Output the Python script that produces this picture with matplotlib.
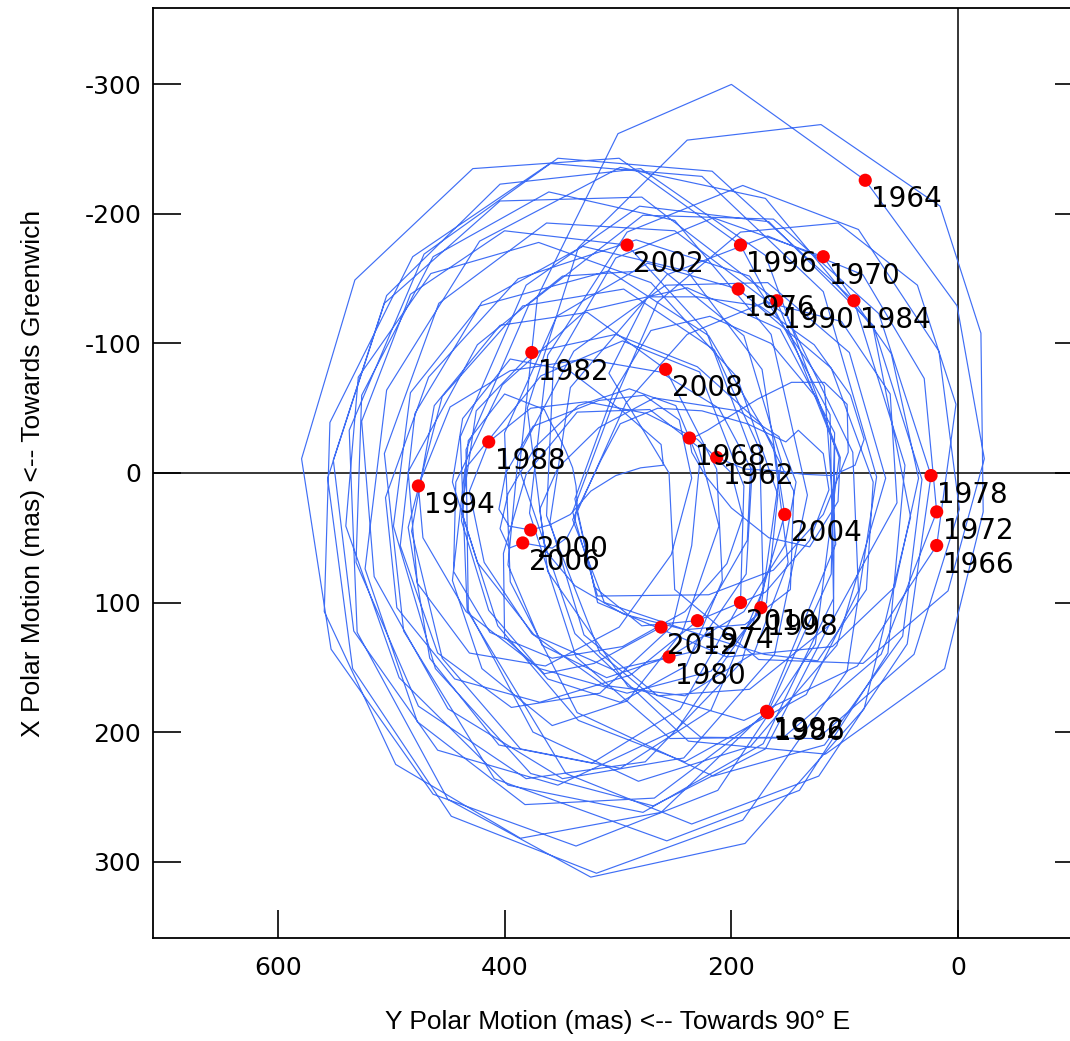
import matplotlib
matplotlib.use("Agg")
import matplotlib.pyplot as plt

plt.rcParams['axes.unicode_minus'] = False

# labelled positions at the start of each even year (mas)
years = [1962, 1964, 1966, 1968, 1970, 1972, 1974, 1976, 1978, 1980, 1982, 1984, 1986,
         1988, 1990, 1992, 1994, 1996, 1998, 2000, 2002, 2004, 2006, 2008, 2010, 2012]
year_y = [213, 82, 19, 237, 119, 19, 230, 194, 24, 255, 376, 92, 168,
          414, 160, 169, 476, 192, 174, 377, 292, 153, 384, 258, 192, 262]
year_x = [-12, -226, 56, -27, -167, 30, 114, -142, 2, 142, -93, -133, 185,
          -24, -133, 184, 10, -176, 104, 44, -176, 32, 54, -80, 100, 119]

# pole track, 0.1 yr steps, one line per two years (1962 ... 2012)
track_y = [
    213, 188, 163, 136, 111, 91, 83, 95, 127, 175, 230, 274, 308, 255, 250, 176, 84, 9, -23, 1,
    82, 200, 300, 371, 387, 338, 238, 117, 12, -22, -20, 16, 121, 239, 335, 380, 362, 291, 189, 89,
    19, 2, 36, 106, 192, 265, 305, 340, 318, 220, 163, 119, 97, 98, 118, 147, 177, 203, 221, 232,
    237, 235, 223, 200, 167, 131, 106, 104, 124, 165, 219, 271, 304, 338, 318, 204, 111, 56, 35, 59,
    119, 216, 302, 357, 363, 316, 227, 124, 39, -1, 17, 88, 190, 292, 362, 378, 337, 254, 154, 68,
    19, 30, 84, 168, 257, 342, 360, 330, 265, 184, 113, 54, 60, 103, 170, 239, 293, 336, 321, 279,
    230, 170, 131, 114, 119, 141, 152, 186, 226, 265, 298, 315, 340, 312, 230, 171, 124, 81, 75, 112,
    194, 274, 354, 400, 395, 336, 216, 118, 49, 32, 75, 167, 281, 381, 439, 433, 346, 235, 123, 45,
    24, 70, 163, 278, 378, 434, 432, 375, 282, 183, 107, 64, 96, 168, 258, 339, 388, 397, 367, 310,
    255, 189, 153, 143, 158, 194, 268, 317, 353, 369, 364, 338, 295, 241, 188, 148, 145, 174, 230, 302,
    376, 425, 438, 406, 335, 241, 134, 88, 93, 151, 250, 363, 458, 506, 489, 409, 257, 140, 62, 47,
    92, 217, 353, 471, 537, 530, 450, 324, 188, 83, 42, 75, 170, 298, 422, 504, 523, 477, 382, 268,
    168, 112, 109, 157, 239, 329, 402, 443, 445, 413, 358, 296, 241, 204, 190, 200, 230, 275, 328, 377,
    414, 431, 418, 376, 312, 241, 180, 150, 163, 220, 308, 422, 483, 498, 461, 377, 269, 170, 110, 109,
    160, 279, 404, 506, 556, 534, 447, 319, 190, 98, 72, 119, 226, 360, 481, 554, 559, 496, 386, 262,
    169, 108, 118, 184, 284, 388, 467, 505, 495, 444, 369, 289, 224, 186, 183, 211, 263, 329, 395, 448,
    476, 472, 434, 369, 292, 218, 169, 159, 195, 271, 370, 465, 529, 540, 493, 397, 278, 172, 110, 113,
    192, 299, 428, 532, 579, 553, 463, 337, 212, 126, 105, 170, 280, 404, 504, 551, 533, 459, 353, 248,
    174, 156, 189, 261, 349, 424, 485, 477, 431, 364, 299, 253, 235, 246, 277, 317, 375, 399, 405, 396,
    377, 360, 342, 324, 302, 280, 260, 262, 295, 343, 395, 437, 446, 424, 374, 304, 234, 187, 181, 222,
    292, 400, 483, 526, 515, 450, 349, 242, 162, 133, 165, 250, 361, 463, 526, 531, 476, 381, 276, 191,
    153, 173, 239, 331, 420, 479, 492, 459, 394, 316, 252, 235, 228, 249, 290, 335, 373, 397, 404, 396,
    384, 358, 345, 338, 336, 337, 340, 346, 352, 360, 365, 400, 432, 438, 414, 362, 298, 240, 208, 213,
    258, 327, 404, 462, 482, 455, 386, 298, 218, 172, 175, 215, 295, 384, 455, 485, 466, 405, 323, 245,
    192, 189, 228, 296, 368, 435, 446, 420, 358, 292, 243, 211, 229, 272, 336, 381, 401, 400, 365, 321,
    262,
]
track_x = [
    -12, -3, -2, 1, 2, -6, -26, -60, -99, -129, -136, -136, -77, 0, 90, 144, 147, 91, -11, -129,
    -226, -300, -262, -136, -3, 124, 207, 217, 151, 30, -108, -206, -269, -257, -174, -50, 76, 165, 191, 149,
    56, -53, -145, -193, -186, -132, -52, 30, 95, 94, 75, 32, -16, -53, -70, -70, -57, -43, -33, -28,
    -27, -16, 2, 27, 50, 57, 22, -12, -57, -100, -121, -110, -62, 20, 100, 142, 134, 88, 4, -92,
    -167, -197, -166, -82, 33, 139, 204, 205, 140, 28, -94, -188, -222, -186, -91, 31, 142, 205, 204, 140,
    30, -73, -153, -183, -153, -66, 38, 125, 172, 167, 117, 23, -61, -117, -132, -107, -54, 30, 88, 118,
    114, 92, 52, 13, -15, -33, -24, -38, -48, -50, -38, -10, 36, 100, 124, 140, 145, 90, 7, -81,
    -142, -162, -121, -31, 84, 185, 234, 210, 126, 5, -114, -194, -206, -145, -28, 106, 232, 271, 234, 132,
    2, -123, -196, -199, -131, -18, 106, 200, 238, 211, 133, 4, -93, -147, -145, -94, -13, 71, 133, 158,
    142, 107, 56, 7, -28, -48, -58, -35, -4, 28, 60, 87, 109, 121, 117, 90, 14, -38, -82, -107,
    -93, -48, 30, 118, 191, 223, 171, 91, -16, -121, -187, -193, -131, -15, 122, 236, 284, 245, 139, -6,
    -133, -233, -243, -169, -33, 123, 252, 312, 286, 182, 34, -112, -212, -236, -179, -64, 74, 192, 256, 251,
    185, 78, -31, -111, -143, -125, -68, 7, 76, 123, 143, 134, 107, 70, 34, 0, -26, -46, -55, -50,
    -24, 14, 69, 124, 164, 172, 139, 69, -21, -106, -156, -129, -62, 41, 151, 232, 257, 213, 111, -21,
    -133, -213, -210, -131, 4, 151, 265, 309, 268, 153, 3, -140, -229, -239, -167, -39, 107, 225, 282, 262,
    184, 55, -67, -152, -180, -150, -74, 19, 104, 159, 177, 156, 110, 52, -4, -50, -78, -88, -79, -51,
    10, 50, 107, 151, 170, 153, 100, 17, -74, -147, -178, -154, -74, 41, 158, 241, 262, 209, 97, -45,
    -176, -243, -235, -149, -11, 136, 248, 288, 245, 132, -12, -168, -235, -223, -137, -10, 122, 214, 241, 198,
    104, -9, -106, -157, -152, -99, -1, 85, 139, 149, 119, 63, 4, -41, -60, -56, -36, 0, 28, 41,
    44, 40, 32, 14, 2, -4, -6, -22, -47, -79, -88, -42, 7, 69, 125, 152, 138, 78, -13, -109,
    -176, -187, -138, -40, 80, 182, 236, 220, 140, 17, -107, -195, -217, -167, -60, 69, 180, 236, 223, 146,
    32, -80, -156, -175, -132, -46, 56, 139, 181, 170, 118, 56, -8, -52, -65, -52, -20, 16, 43, 58,
    54, 58, 50, 38, 24, 10, -4, -17, -28, -40, -49, -61, -25, 37, 106, 159, 177, 149, 83, -3,
    -80, -124, -114, -52, 45, 143, 213, 228, 183, 90, -18, -95, -142, -129, -59, 42, 143, 210, 224, 182,
    100, 10, -78, -102, -75, -3, 83, 151, 195, 176, 122, 41, -20, -49, -47, 1, 62, 127, 155, 147,
    119,
]

x_ticks = [600, 400, 200, 0]
y_ticks = [-300, -200, -100, 0, 100, 200, 300]

fig = plt.figure(figsize=(10.70, 10.41), dpi=100)
ax = fig.add_axes([153 / 1070, 103 / 1041, 930 / 1070, 930 / 1041])

ax.axhline(0, color='black', lw=1.1, zorder=1)
ax.axvline(0, color='black', lw=1.1, zorder=1)
ax.plot(track_y, track_x, color='#3f6ef5', lw=0.85, zorder=2)
ax.scatter(year_y, year_x, s=90, color='#ff0000', edgecolors='none', zorder=3)
for yr, yy, xx in zip(years, year_y, year_x):
    ax.annotate(str(yr), (yy, xx), xytext=(6, -5), textcoords='offset pixels',
                ha='left', va='top', fontsize=20, family='DejaVu Sans', zorder=4)

ax.set_xlim(710, -110)
ax.set_ylim(359, -359)
ax.set_xticks(x_ticks)
ax.set_yticks(y_ticks)
ax.tick_params(direction='in', length=20, width=1.2, top=False, right=True, labelsize=18)
ax.tick_params(axis='x', pad=13)
ax.tick_params(axis='y', pad=8.5)
for sp in ax.spines.values():
    sp.set_linewidth(1.3)

lab_font = dict(family=['Liberation Sans', 'DejaVu Sans'], fontsize=19)
ax.set_xlabel('Y Polar Motion (mas) <-- Towards 90° E', **lab_font)
ax.set_ylabel('X Polar Motion (mas) <-- Towards Greenwich', **lab_font)
ax.xaxis.set_label_coords(0.5, -0.0903)
ax.xaxis.label.set_verticalalignment('center')
ax.yaxis.set_label_coords(-0.129, 0.5)
ax.yaxis.label.set_verticalalignment('center')

fig.savefig('out.png', dpi=100)
